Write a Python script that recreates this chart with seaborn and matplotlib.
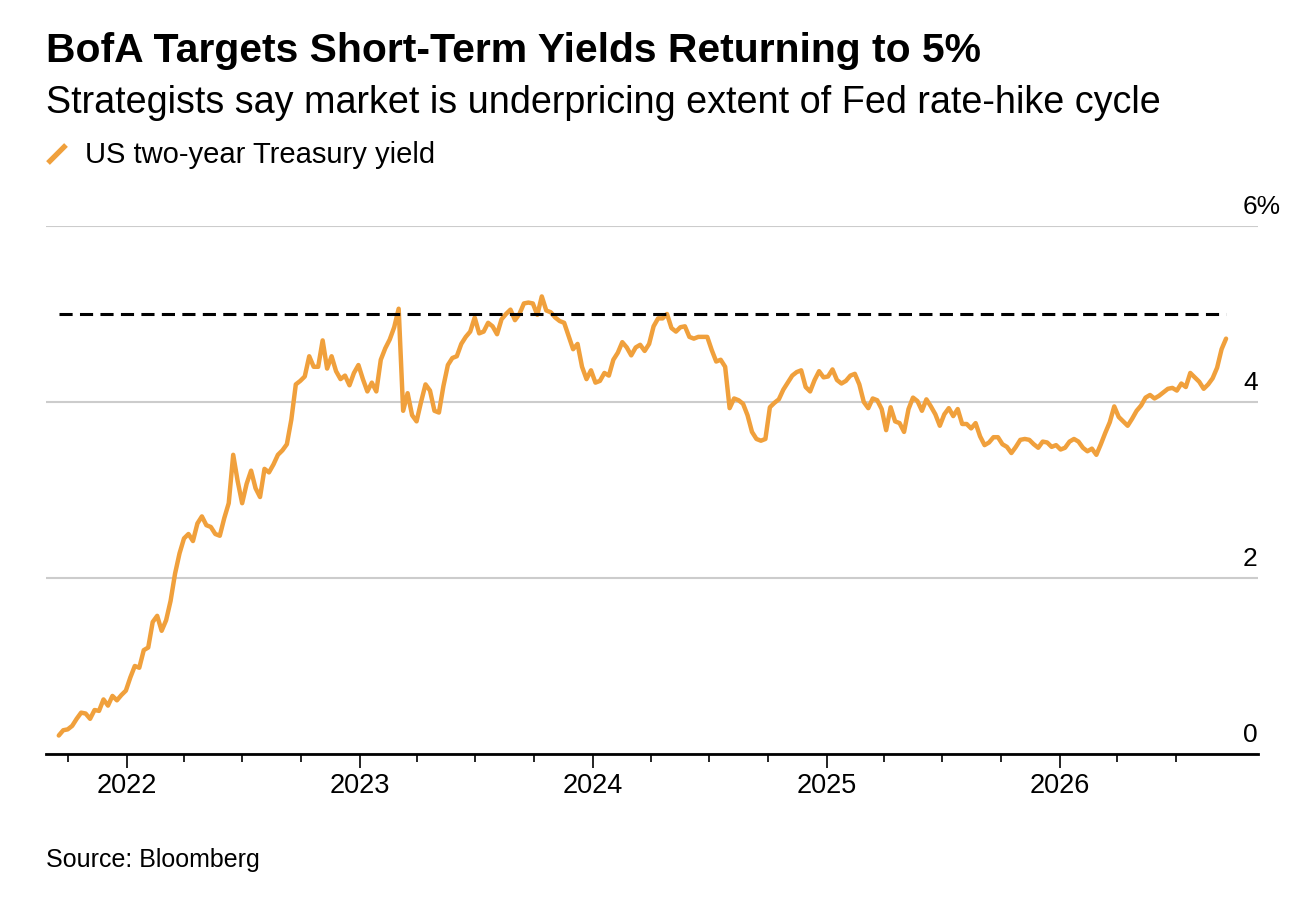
import matplotlib
matplotlib.use("Agg")
import matplotlib.pyplot as plt
from matplotlib.lines import Line2D
import matplotlib.transforms as mtransforms
import numpy as np
import pandas as pd
import seaborn as sns

# weekly US two-year Treasury yield (%)
start_date = "2021-09-17"
yields = [
    0.21, 0.27, 0.28, 0.32, 0.40, 0.47, 0.46, 0.40, 0.50, 0.49,
    0.62, 0.55, 0.66, 0.61, 0.67, 0.72, 0.87, 1.00, 0.98, 1.18,
    1.21, 1.50, 1.57, 1.40, 1.52, 1.74, 2.05, 2.28, 2.45, 2.50,
    2.42, 2.62, 2.70, 2.60, 2.58, 2.50, 2.48, 2.68, 2.85, 3.40,
    3.10, 2.85, 3.07, 3.22, 3.02, 2.92, 3.24, 3.20, 3.29, 3.40,
    3.45, 3.52, 3.80, 4.20, 4.24, 4.29, 4.52, 4.40, 4.40, 4.70,
    4.38, 4.52, 4.35, 4.26, 4.30, 4.19, 4.33, 4.42, 4.26, 4.12,
    4.22, 4.12, 4.48, 4.61, 4.71, 4.85, 5.06, 3.90, 4.10, 3.85,
    3.78, 4.00, 4.20, 4.13, 3.90, 3.88, 4.18, 4.42, 4.50, 4.52,
    4.66, 4.74, 4.80, 4.96, 4.78, 4.80, 4.90, 4.86, 4.77, 4.94,
    5.00, 5.05, 4.93, 5.00, 5.12, 5.13, 5.12, 4.99, 5.20, 5.04,
    5.02, 4.96, 4.92, 4.90, 4.75, 4.60, 4.66, 4.40, 4.26, 4.36,
    4.22, 4.24, 4.33, 4.30, 4.48, 4.56, 4.68, 4.62, 4.53, 4.62,
    4.65, 4.58, 4.66, 4.86, 4.95, 4.95, 5.00, 4.84, 4.80, 4.85,
    4.86, 4.74, 4.72, 4.74, 4.74, 4.74, 4.59, 4.46, 4.48, 4.40,
    3.93, 4.04, 4.02, 3.98, 3.85, 3.66, 3.58, 3.56, 3.58, 3.94,
    3.99, 4.03, 4.14, 4.22, 4.30, 4.34, 4.36, 4.17, 4.12, 4.25,
    4.35, 4.28, 4.29, 4.37, 4.25, 4.21, 4.24, 4.30, 4.32, 4.20,
    4.00, 3.93, 4.04, 4.02, 3.92, 3.68, 3.94, 3.78, 3.76, 3.66,
    3.92, 4.05, 4.01, 3.90, 4.03, 3.95, 3.86, 3.73, 3.86, 3.93,
    3.84, 3.92, 3.75, 3.75, 3.70, 3.76, 3.61, 3.51, 3.54, 3.60,
    3.60, 3.52, 3.49, 3.42, 3.49, 3.57, 3.58, 3.57, 3.52, 3.48,
    3.55, 3.54, 3.49, 3.51, 3.46, 3.48, 3.55, 3.58, 3.55, 3.48,
    3.44, 3.47, 3.40, 3.52, 3.65, 3.77, 3.95, 3.83, 3.78, 3.73,
    3.81, 3.90, 3.96, 4.05, 4.08, 4.04, 4.07, 4.11, 4.15, 4.16,
    4.13, 4.21, 4.17, 4.33, 4.28, 4.23, 4.15, 4.20, 4.27, 4.39,
    4.60, 4.72,
]
target_level = 5.0
y_ticks = [0, 2, 4, 6]
y_labels = ["0", "2", "4", "6%"]
x_limits = ["2021-08-28", "2026-11-07"]

title = "BofA Targets Short-Term Yields Returning to 5%"
subtitle = "Strategists say market is underpricing extent of Fed rate-hike cycle"
legend_label = "US two-year Treasury yield"
source = "Source: Bloomberg"

ORANGE = "#F0A03C"
GRID = "#CCCCCC"

dates = pd.date_range(start_date, periods=len(yields), freq="7D")
df = pd.DataFrame({"date": dates, "yield": yields})

sns.set_style("white")
plt.rcParams["font.family"] = ["Liberation Sans", "DejaVu Sans"]
plt.rcParams["text.color"] = "black"
plt.rcParams["xtick.color"] = "black"
plt.rcParams["xtick.labelcolor"] = "black"

fig = plt.figure(figsize=(13.06, 9.2), dpi=100)
W, H = 1306, 920
ax = fig.add_axes([46 / W, 165 / H, 1212 / W, 528 / H])

sns.lineplot(data=df, x="date", y="yield", ax=ax, color=ORANGE,
             linewidth=3.2, zorder=3)
ax.plot([dates[0], dates[-1]], [target_level, target_level], color="black",
        linewidth=2.2, dashes=(4.3, 2.4), zorder=4)

ax.set_ylim(0, 6)
ax.set_xlim(pd.Timestamp(x_limits[0]), pd.Timestamp(x_limits[1]))
ax.set_xlabel("")
ax.set_ylabel("")

# gridlines + right-side labels sitting above the lines
ax.set_yticks(y_ticks)
ax.tick_params(axis="y", left=False, right=False, labelleft=False)
ax.yaxis.grid(True, color=GRID, linewidth=1.5, zorder=0)
lift = mtransforms.ScaledTranslation(0, 13 / 100, fig.dpi_scale_trans)
for val, lab in zip(y_ticks, y_labels):
    ax.text((1243 - 46) / 1212, val, lab, transform=ax.get_yaxis_transform() + lift,
            ha="left", va="baseline", fontsize=19, color="black")

# quarterly ticks only inside the data range, years labelled
quarters = pd.date_range(dates[0], dates[-1], freq="QS")
years = [q for q in quarters if q.month == 1]
minors = [q for q in quarters if q.month != 1]
ax.set_xticks(years)
ax.set_xticklabels([str(q.year) for q in years])
ax.set_xticks(minors, minor=True)
ax.tick_params(axis="x", which="major", length=10, width=1.2, color="black",
               direction="out", labelsize=19.5, pad=3, bottom=True,
               labelcolor="black")
ax.tick_params(axis="x", which="minor", length=5.8, width=1.2, color="black",
               direction="out", bottom=True)

for side in ["left", "right", "top"]:
    ax.spines[side].set_visible(False)
ax.spines["bottom"].set_color("black")
ax.spines["bottom"].set_linewidth(2)
ax.spines["bottom"].set_zorder(5)

# header, legend and footer
fig.text(46 / W, 1 - 62 / H, title, fontsize=29.4, fontweight="bold",
         ha="left", va="baseline", color="black")
fig.text(46 / W, 1 - 113 / H, subtitle, fontsize=27.2,
         ha="left", va="baseline", color="black")
fig.add_artist(Line2D([48 / W, 66 / W], [1 - 164 / H, 1 - 146 / H],
                      transform=fig.transFigure, color=ORANGE, linewidth=3.8,
                      solid_capstyle="butt"))
fig.text(85 / W, 1 - 163 / H, legend_label, fontsize=21,
         ha="left", va="baseline", color="black")
fig.text(46 / W, 1 - 867 / H, source, fontsize=18,
         ha="left", va="baseline", color="black")

fig.savefig("out.png", dpi=100)
